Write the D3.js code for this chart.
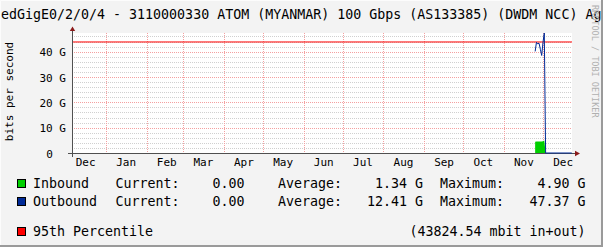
<!DOCTYPE html>
<html>
<head>
<meta charset="utf-8">
<script src="https://cdn.jsdelivr.net/npm/d3@7"></script>
<style>
  body { margin: 0; background: #f3f3f3; }
  svg { display: block; font-family: 'DejaVu Sans Mono', monospace; }
  text { white-space: pre; }
</style>
</head>
<body>
<svg id="chart" width="603" height="247"></svg>
<script>
// data (values in G bits/s)
const dates = ['2023-11-25', '2023-11-26', '2023-11-27', '2023-11-28', '2023-11-29',
               '2023-11-30', '2023-12-01', '2023-12-02', '2023-12-03', '2023-12-23'];
const inbound = [4.4, 4.5, 4.5, 4.5, 4.5, 4.5, 4.6, 4.9, 0, 0];
const outbound = [40.1, 43.7, 43.1, 43.3, 40.9, 38.5, 43.7, 47.37, 0, 0];
const percentile95 = 43.82454;
const yMax = 47.37;
const yTicks = [0, 10, 20, 30, 40];
const monthLabels = ['Dec', 'Jan', 'Feb', 'Mar', 'Apr', 'May', 'Jun', 'Jul', 'Aug', 'Sep', 'Oct', 'Nov', 'Dec'];
const title = 'edGigE0/2/0/4 - 3110000330 ATOM (MYANMAR) 100 Gbps (AS133385) (DWDM NCC) Ag';
const legendRows = [
  { name: 'Inbound', color: '#00cf00', current: '0.00', average: '1.34 G', maximum: '4.90 G' },
  { name: 'Outbound', color: '#002a97', current: '0.00', average: '12.41 G', maximum: '47.37 G' }
];

const svg = d3.select('#chart');
const plotLeft = 72, plotRight = 572, plotTop = 33, plotBottom = 153;
const parse = d3.timeParse('%Y-%m-%d');

const x = d3.scaleTime()
  .domain([new Date(2022, 11, 6), new Date(2023, 11, 23, 4)])
  .range([plotLeft, plotRight]);
const y = d3.scaleLinear()
  .domain([0, yMax])
  .range([plotBottom, plotTop]);

// frame
svg.append('rect').attr('width', 603).attr('height', 247).attr('fill', '#f3f3f3');
svg.append('path').attr('d', 'M0,246H602V0').attr('fill', 'none')
  .attr('stroke', '#9a9a9a').attr('stroke-width', 2);
svg.append('path').attr('d', 'M0.5,245V0.5H601').attr('fill', 'none')
  .attr('stroke', '#fcfcfc').attr('stroke-width', 1);

// canvas
svg.append('rect').attr('x', plotLeft).attr('y', plotTop).attr('width', plotRight - plotLeft)
  .attr('height', plotBottom - plotTop).attr('fill', '#ffffff');

// minor grid every 2 G
const minor = d3.range(2, yMax, 2).filter(d => d % 10 !== 0);
svg.append('g').selectAll('line').data(minor).join('line')
  .attr('x1', plotLeft).attr('x2', plotRight)
  .attr('y1', d => Math.round(y(d)) + 0.5).attr('y2', d => Math.round(y(d)) + 0.5)
  .attr('stroke', '#d0d0d0').attr('stroke-dasharray', '1,1');

// major grid
svg.append('g').selectAll('line').data(yTicks.filter(d => d > 0)).join('line')
  .attr('x1', plotLeft).attr('x2', plotRight)
  .attr('y1', d => Math.round(y(d)) + 0.5).attr('y2', d => Math.round(y(d)) + 0.5)
  .attr('stroke', '#f4a0a0').attr('stroke-dasharray', '1,1');
const months = d3.timeMonth.range(x.domain()[0], x.domain()[1]).filter(d => x(d) > plotLeft);
svg.append('g').selectAll('line').data(months).join('line')
  .attr('x1', d => Math.round(x(d)) + 0.5).attr('x2', d => Math.round(x(d)) + 0.5)
  .attr('y1', plotTop).attr('y2', plotBottom)
  .attr('stroke', '#f4a0a0').attr('stroke-dasharray', '1,1');

// inbound area
const pts = dates.map((d, i) => ({ t: parse(d), inb: inbound[i], out: outbound[i] }));
svg.append('path').datum(pts)
  .attr('d', d3.area().x(d => x(d.t)).y0(y(0)).y1(d => y(d.inb)))
  .attr('fill', '#00cf00');

// 95th percentile
svg.append('line')
  .attr('x1', plotLeft).attr('x2', plotRight)
  .attr('y1', y(percentile95)).attr('y2', y(percentile95))
  .attr('stroke', '#ff0000').attr('stroke-width', 1);

// axes lines
const axisColor = '#505050';
svg.append('line').attr('x1', 68).attr('x2', 575).attr('y1', plotBottom + 0.5).attr('y2', plotBottom + 0.5)
  .attr('stroke', axisColor);
svg.append('line').attr('x1', plotLeft + 0.5).attr('x2', plotLeft + 0.5).attr('y1', 30).attr('y2', 157)
  .attr('stroke', axisColor);
svg.append('path').attr('d', `M${plotLeft + 0.5},26.5L${plotLeft + 3.2},31L${plotLeft - 2.2},31Z`)
  .attr('fill', '#8b1a1a');
svg.append('path').attr('d', `M580,${plotBottom + 0.5}L575,${plotBottom - 2.2}L575,${plotBottom + 3.2}Z`)
  .attr('fill', '#8b1a1a');

// outbound line
svg.append('path').datum(pts)
  .attr('d', d3.line().x(d => x(d.t)).y(d => y(d.out)))
  .attr('fill', 'none')
  .attr('stroke', '#002a97').attr('stroke-width', 1);

// y axis labels
const yAxis = d3.axisLeft(y).tickValues(yTicks).tickSize(0).tickPadding(0)
  .tickFormat(d => d === 0 ? '0  ' : `${d} G`);
svg.append('g').attr('transform', 'translate(66,0.5)').call(yAxis)
  .call(g => g.select('.domain').remove())
  .selectAll('text').attr('font-family', 'DejaVu Sans Mono').attr('font-size', 11).attr('fill', '#000');

// x axis labels at mid month
const mids = monthLabels.map((m, i) => new Date(2022, 11 + i, 16));
const xAxis = d3.axisBottom(x).tickValues(mids).tickSize(0).tickPadding(0)
  .tickFormat((d, i) => monthLabels[i]);
svg.append('g').attr('transform', 'translate(0,158)').call(xAxis)
  .call(g => g.select('.domain').remove())
  .selectAll('text').attr('font-family', 'DejaVu Sans Mono').attr('font-size', 11).attr('fill', '#000');

// y title
svg.append('text').attr('transform', 'translate(12.5,91.5) rotate(-90)')
  .attr('text-anchor', 'middle').attr('font-size', 11).text('bits per second');

// title
svg.append('text').attr('x', 1).attr('y', 18.5).attr('font-size', 13.3).text(title);

// watermark
svg.append('text').attr('transform', 'translate(591.5,5) rotate(90)')
  .attr('font-size', 8.5).attr('fill', '#b0b0b0').text('RRDTOOL / TOBI OETIKER');

// legend
const rowY = [188, 206];
const lg = svg.append('g').attr('font-size', 13.3);
legendRows.forEach((r, i) => {
  const by = rowY[i];
  lg.append('rect').attr('x', 17.5).attr('y', by - 8.5).attr('width', 8).attr('height', 8)
    .attr('fill', r.color).attr('stroke', '#000');
  lg.append('text').attr('x', 33).attr('y', by).text(r.name);
  lg.append('text').attr('x', 115.5).attr('y', by).text('Current:');
  lg.append('text').attr('x', 244.5).attr('y', by).attr('text-anchor', 'end').text(r.current);
  lg.append('text').attr('x', 278).attr('y', by).text('Average:');
  lg.append('text').attr('x', 423).attr('y', by).attr('text-anchor', 'end').text(r.average);
  lg.append('text').attr('x', 440).attr('y', by).text('Maximum:');
  lg.append('text').attr('x', 585.5).attr('y', by).attr('text-anchor', 'end').text(r.maximum);
});
lg.append('rect').attr('x', 17.5).attr('y', 236 - 8.5).attr('width', 8).attr('height', 8)
  .attr('fill', '#ff0000').attr('stroke', '#000');
lg.append('text').attr('x', 33).attr('y', 236).text('95th Percentile');
lg.append('text').attr('x', 585.5).attr('y', 236).attr('text-anchor', 'end')
  .text(`(${(percentile95 * 1000).toFixed(2)} mbit in+out)`);
</script>
</body>
</html>
